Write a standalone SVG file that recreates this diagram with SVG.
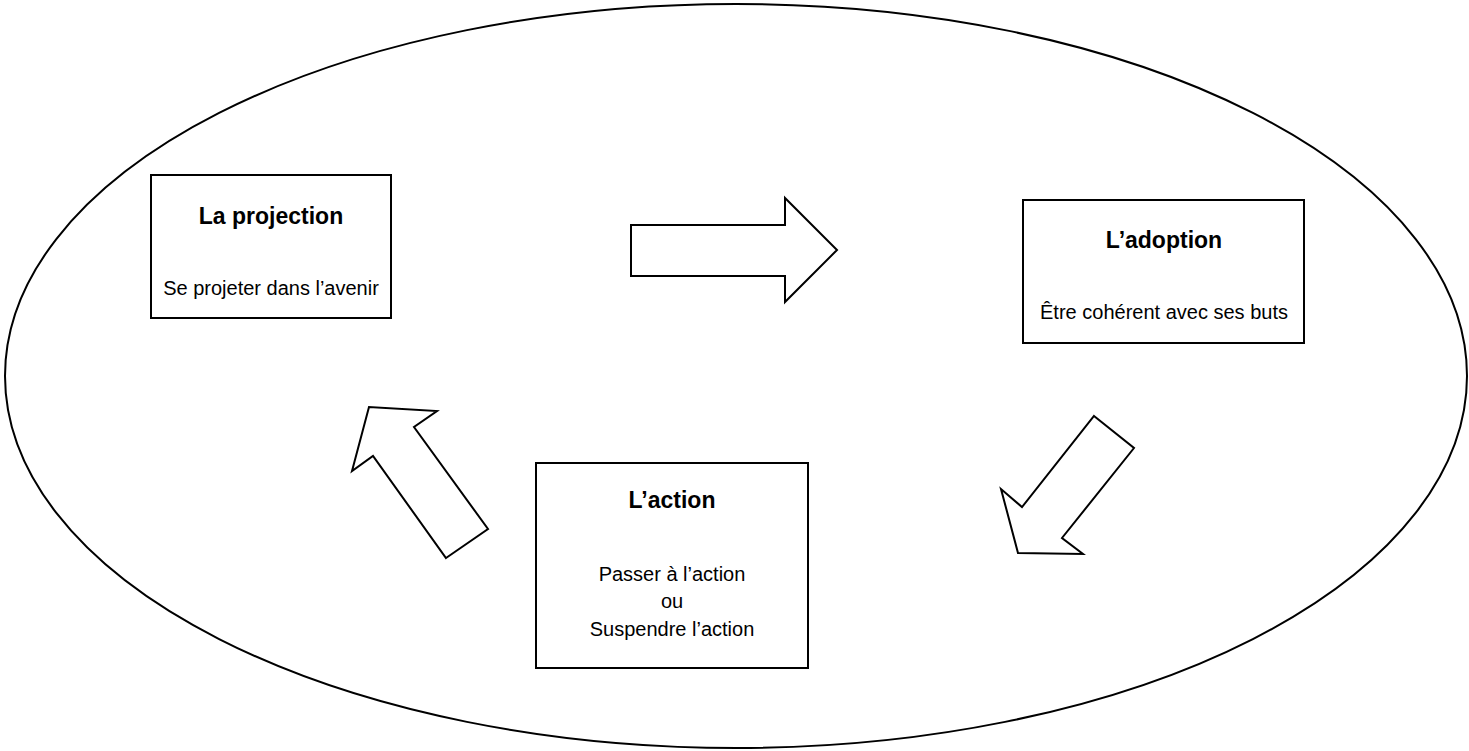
<svg xmlns="http://www.w3.org/2000/svg" width="1469" height="751" viewBox="0 0 1469 751">
<style>
.shape{fill:#fff;stroke:#000;stroke-width:2}
.title{font-family:"Liberation Sans",Arial,sans-serif;font-weight:bold;font-size:23px;text-anchor:middle;fill:#000}
.body{font-family:"Liberation Sans",Arial,sans-serif;font-size:20px;text-anchor:middle;fill:#000}
</style>
<rect width="1469" height="751" fill="#fff"/>
<ellipse id="outer" cx="736" cy="376" rx="731" ry="372" fill="none" stroke="#000" stroke-width="2"/>
<g id="connectors">
<polygon class="shape" points="631,225 785,225 785,198 837,250 785,302 785,276 631,276"/>
<polygon class="shape" points="1094,416 1134,448 1062,538 1083,554 1018,553 1001,489 1022,507"/>
<polygon class="shape" points="446,558 488,529 414,427 437,411 369,407 352,471 373,456"/>
</g>
<g id="projection">
<rect class="shape" x="151" y="175" width="240" height="143"/>
<text class="title" x="271" y="224">La projection</text>
<text class="body" x="271" y="295">Se projeter dans l’avenir</text>
</g>
<g id="adoption">
<rect class="shape" x="1023" y="200" width="281" height="143"/>
<text class="title" x="1164" y="248">L’adoption</text>
<text class="body" x="1164" y="319">Être cohérent avec ses buts</text>
</g>
<g id="action">
<rect class="shape" x="536" y="463" width="272" height="205"/>
<text class="title" x="672" y="508">L’action</text>
<text class="body" x="672" y="581">Passer à l’action</text>
<text class="body" x="672" y="608">ou</text>
<text class="body" x="672" y="636">Suspendre l’action</text>
</g>
</svg>
